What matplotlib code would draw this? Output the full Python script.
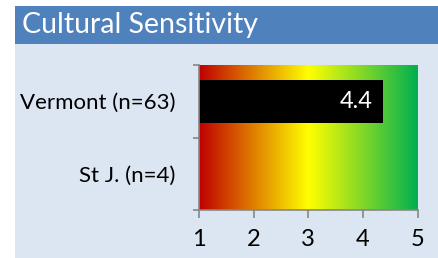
import numpy as np
import matplotlib.pyplot as plt
from matplotlib.colors import LinearSegmentedColormap
from matplotlib.patches import Rectangle

plt.rcParams['font.family'] = ['Lato', 'DejaVu Sans']

title = "Cultural Sensitivity"
groups = ["St J. (n=4)", "Vermont (n=63)"]
scores = [np.nan, 4.37]
score_labels = ["", "4.4"]
xticks = [1, 2, 3, 4, 5]

fig = plt.figure(figsize=(4.38, 2.58), dpi=100)
fig.patch.set_facecolor("white")

# background panels in a full-figure axes
bg = fig.add_axes([0, 0, 1, 1], zorder=-1)
bg.set_xlim(0, 438)
bg.set_ylim(258, 0)
bg.axis("off")
bg.add_patch(Rectangle((15, 44), 423, 214, facecolor="#DCE6F2", edgecolor="none"))
bg.add_patch(Rectangle((15, 6), 423, 38, facecolor="#4F81BD", edgecolor="none"))
bg.text(22, 25, title, color="white", fontsize=20.5, va="center", ha="left")

ax = fig.add_axes([199/438, 1 - 210/258, 218.7/438, 145/258])
ax.set_facecolor("none")

cmap = LinearSegmentedColormap.from_list("ryg", ["#C00000", "#FFFF00", "#00B050"])
grad = np.linspace(0, 1, 256).reshape(1, -1)
ax.imshow(grad, cmap=cmap, extent=[1, 5, 0, 2], aspect="auto", zorder=0)

ypos = np.arange(len(groups)) + 0.5
for y, s, lab in zip(ypos, scores, score_labels):
    if np.isnan(s):
        continue
    ax.barh(y, s - 1, left=1, height=0.6, color="black", zorder=2)
    ax.text(s - 0.2, y, lab, color="white", ha="right", va="center", fontsize=17, zorder=3)

ax.set_xlim(1, 5)
ax.set_ylim(0, 2)
ax.set_xticks(xticks)
ax.set_xticklabels([str(t) for t in xticks], fontsize=17)
ax.set_yticks([0, 1, 2])
ax.set_yticklabels([])
ax.set_yticks(ypos, minor=True)
ax.set_yticklabels(groups, minor=True, fontsize=16)
ax.tick_params(axis="y", which="minor", length=0, pad=17)
ax.tick_params(axis="y", which="major", length=4, color="#868686", width=1.2)
ax.tick_params(axis="x", length=6, color="#868686", width=1.2, pad=8)
for side in ["top", "right"]:
    ax.spines[side].set_visible(False)
for side in ["left", "bottom"]:
    ax.spines[side].set_color("#868686")
    ax.spines[side].set_linewidth(1.2)

fig.savefig("out.png", dpi=100)
